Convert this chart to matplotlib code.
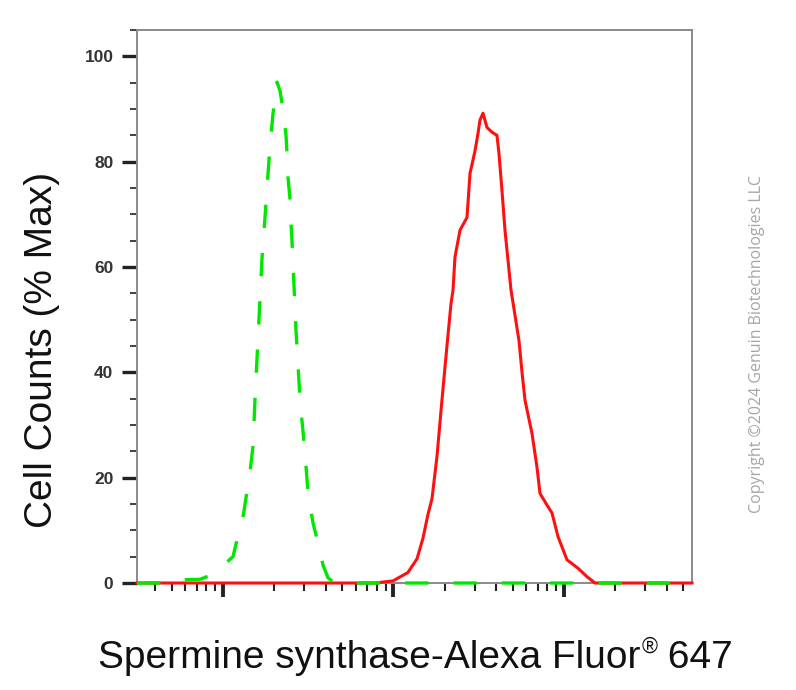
import matplotlib
matplotlib.use("Agg")
import matplotlib.pyplot as plt
from matplotlib.ticker import LogLocator, NullFormatter, MultipleLocator

plt.rcParams['font.family'] = ['Liberation Sans', 'DejaVu Sans']

# Control (dashed green) histogram: fluorescence intensity vs % max
control_x = [31.3, 50, 56.0, 73.3, 85, 93.5, 114.5, 122.4, 131.0, 143.9, 150.0, 154.1,
             169.4, 173.9, 181.2, 188.7, 196.3, 207.4, 215.8, 224.9, 234.2, 237.3,
             240.6, 247.1, 250.5, 253.9, 268.0, 283.1, 302.9, 315.5, 337.3, 360.7,
             386.1, 412.8, 441.4, 555.6, 56360]
control_y = [0, 0, 0.6, 0.7, 1.5, 2.5, 5, 9, 12.5, 21, 26, 35,
             61.7, 66.6, 75, 83, 89, 95.1, 93.5, 90, 85, 81.6,
             77, 73, 68.5, 65, 48, 34.7, 24.6, 17, 11.4, 7.6,
             3.4, 1.0, 0.2, 0, 0]

# Spermine synthase stained (solid red) histogram
stained_x = [31.3, 778.6, 993.3, 1216, 1374, 1489, 1593, 1682, 1799, 1924, 2059, 2174,
             2234, 2295, 2456, 2699, 2811, 3006, 3133, 3216, 3350, 3535, 3781, 4044,
             4156, 4327, 4508, 4695, 4891, 5094, 5448, 5674, 5909, 6493, 6946, 7236,
             7949, 8506, 9226, 10419, 12087, 13641, 15201, 56360]
stained_y = [0, 0, 0.4, 2, 4.6, 8.5, 13, 16, 24, 34.7, 45, 53,
             55.6, 61.9, 67, 69.4, 77.8, 82, 85.4, 87.9, 89.2, 86.5, 85.6, 85,
             81.6, 74.6, 67, 61.3, 55.6, 52, 46, 40, 34.7, 28.4, 22, 17,
             14.8, 13.3, 8.8, 4.4, 2.8, 1.2, 0, 0]

y_ticks = [0, 20, 40, 60, 80, 100]

fig = plt.figure(figsize=(7.96, 6.90), dpi=100)
ax = fig.add_axes([137/796, 107/690, (692-137)/796, (583-30)/690])

ax.plot(stained_x, stained_y, color='#ff1010', lw=2.2, clip_on=False, zorder=3)
ax.plot(control_x, control_y, color='#00e800', lw=2.4, linestyle=(0, (7, 7.5)),
        clip_on=False, zorder=4)

ax.set_xscale('log')
ax.set_xlim(31.3, 56360)
ax.set_ylim(0, 105)

ax.xaxis.set_major_locator(LogLocator(base=10, numticks=10))
ax.xaxis.set_minor_locator(LogLocator(base=10, subs=range(2, 10), numticks=20))
ax.xaxis.set_major_formatter(NullFormatter())
ax.xaxis.set_minor_formatter(NullFormatter())

ax.set_yticks(y_ticks)
ax.yaxis.set_minor_locator(MultipleLocator(5))

ax.tick_params(axis='x', which='major', direction='out', length=10, width=2.8, color='#222222')
ax.tick_params(axis='x', which='minor', direction='out', length=6, width=1.5, color='#222222')
ax.tick_params(axis='y', which='major', direction='out', length=11, width=2.4, color='#222222',
               labelsize=12.5, labelcolor='#333333', pad=6)
ax.tick_params(axis='y', which='minor', direction='out', length=5, width=1.3, color='#333333')
for lbl in ax.get_yticklabels():
    lbl.set_fontweight('bold')

for s in ax.spines.values():
    s.set_color('#8a8a8a')
    s.set_linewidth(1.4)

fig.text(42/796, 1 - 350/690, 'Cell Counts (% Max)', rotation=90, fontsize=28,
         ha='center', va='center', color='#111111')

# x label composed of three pieces so that the registered sign is small and raised
renderer = fig.canvas.get_renderer()
base_y = 1 - 668/690
t1 = fig.text(0, base_y, 'Spermine synthase-Alexa Fluor', fontsize=28,
              ha='left', va='baseline', color='#111111')
t2 = fig.text(0, 1 - 653/690, '\u00ae', fontsize=15.5,
              ha='left', va='baseline', color='#111111')
t3 = fig.text(0, base_y, ' 647', fontsize=28,
              ha='left', va='baseline', color='#111111')
w1 = t1.get_window_extent(renderer).width
w2 = t2.get_window_extent(renderer).width
w3 = t3.get_window_extent(renderer).width
total = w1 + w2 + w3
left_px = 415.5 - total / 2
t1.set_x(left_px / 796)
t2.set_x((left_px + w1 + 1) / 796)
t3.set_x((left_px + w1 + w2) / 796)

fig.text(757/796, 1 - 344/690, 'Copyright \u00a92024 Genuin Biotechnologies LLC',
         rotation=90, fontsize=11.5, ha='center', va='center', color='#a6a6a6',
         family=['Open Sans', 'DejaVu Sans'])

fig.savefig('out.png', dpi=100)
